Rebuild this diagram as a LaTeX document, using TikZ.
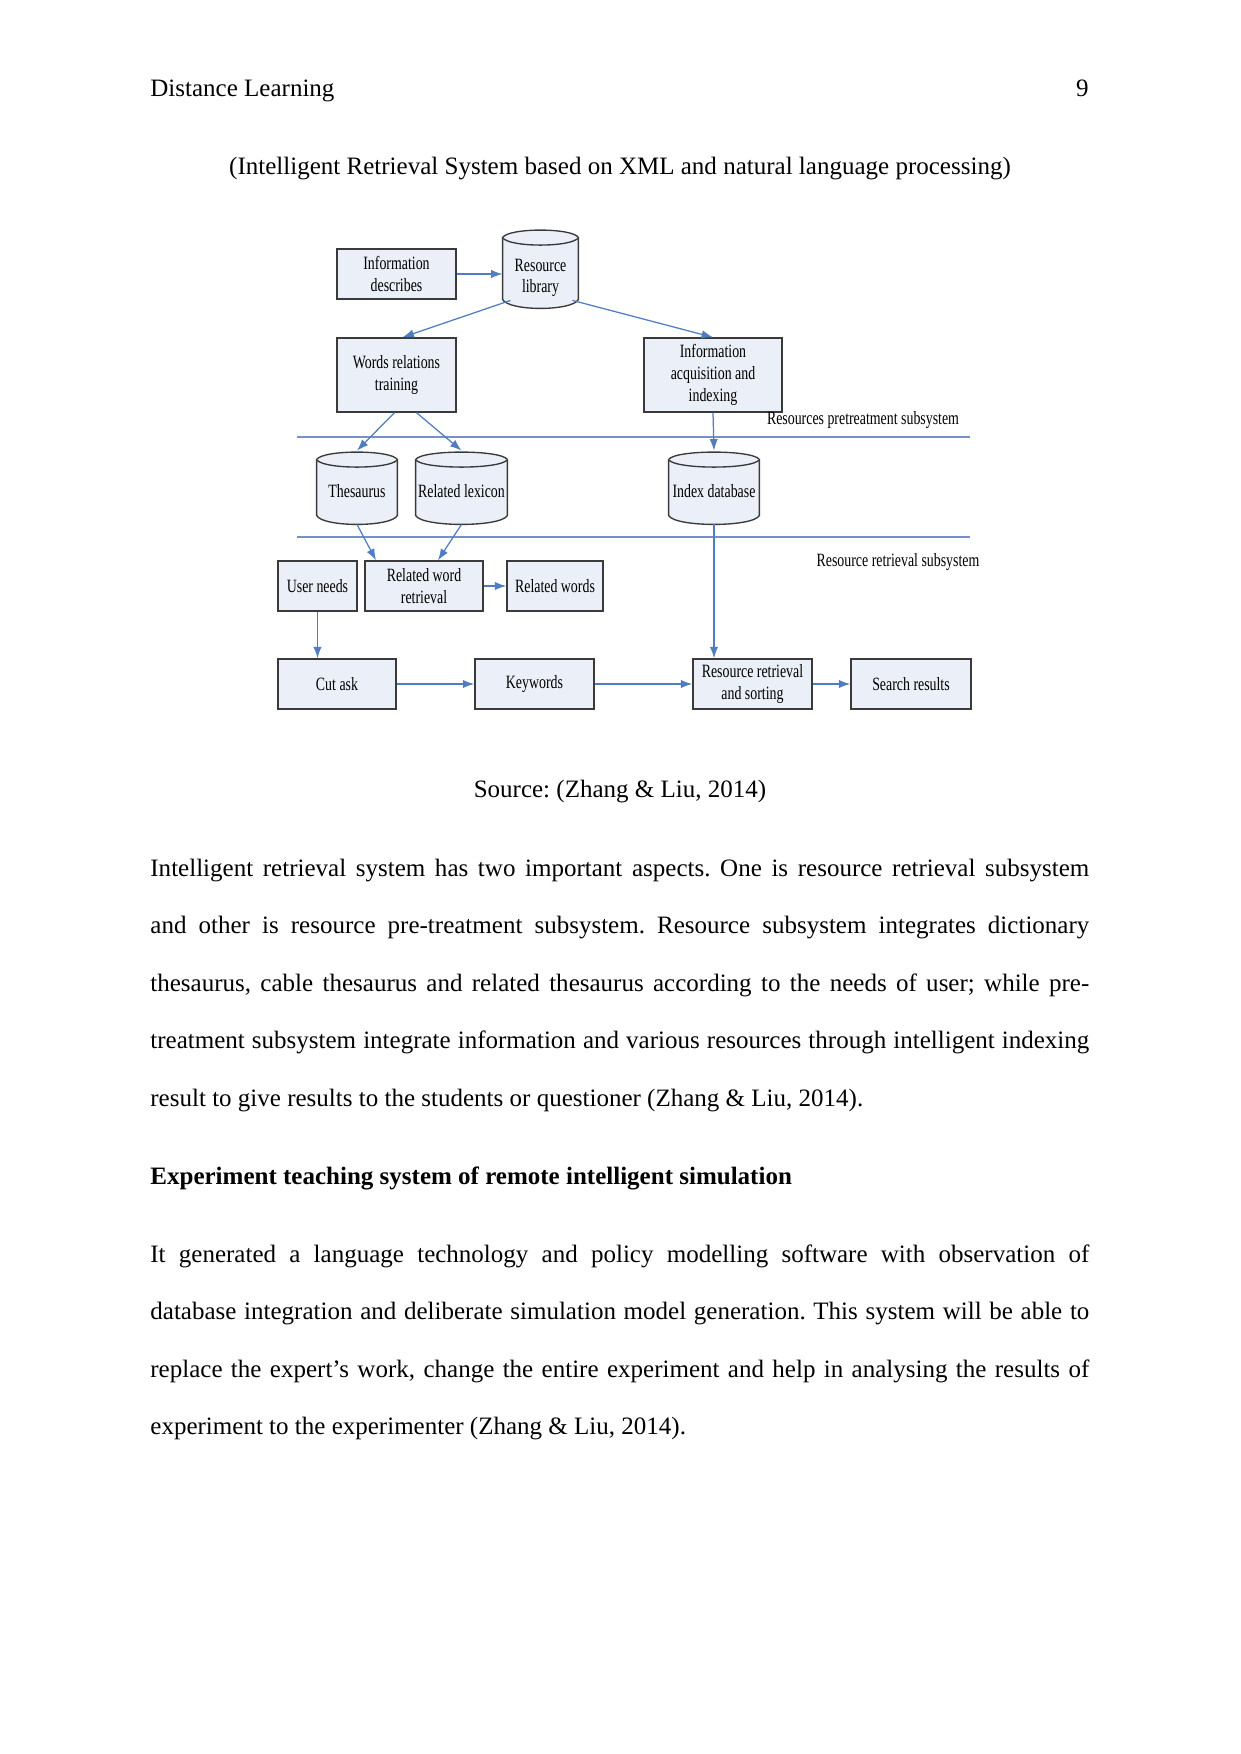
\documentclass[tikz,border=0pt]{standalone}
\usepackage{fontspec}
\setmainfont{Liberation Serif}
\newfontfamily\diagfont[FakeStretch=0.74]{Liberation Serif}
\usetikzlibrary{
    arrows.meta,
    backgrounds
}

% one pixel of the page
\newcommand\pu{0.4797pt}
\newcommand\dtext{\diagfont\fontsize{9pt}{10.4pt}\selectfont}
\newcommand\btext{\fontsize{12pt}{27.63pt}\selectfont\frenchspacing}

\definecolor{boxfill}{HTML}{EBEFF7}
\definecolor{boxline}{HTML}{3A3A3A}
\definecolor{arrowblue}{HTML}{4F7DC2}
\definecolor{sepblue}{HTML}{7592C8}

% database drum round a named node, lifted by #2 pixels
\newcommand\dbshape[2]{%
  \filldraw[dbline] ([shift={(0,8-#2)}]#1.north west)
      .. controls ([shift={(6,-2-#2)}]#1.north west) and ([shift={(-6,-2-#2)}]#1.north east) .. ([shift={(0,8-#2)}]#1.north east)
      -- ([shift={(0,-9-#2)}]#1.south east)
      .. controls ([shift={(-6,3-#2)}]#1.south east) and ([shift={(6,3-#2)}]#1.south west) .. ([shift={(0,-9-#2)}]#1.south west) -- cycle;
  \draw[dbline] ([shift={(0,8-#2)}]#1.north west)
      .. controls ([shift={(6,18-#2)}]#1.north west) and ([shift={(-6,18-#2)}]#1.north east) .. ([shift={(0,8-#2)}]#1.north east);
}

\begin{document}
\begin{tikzpicture}[x=\pu, y=-\pu,
    box/.style={draw=boxline, fill=boxfill, line width=0.65pt, minimum width=#1*\pu,
        minimum height=50*\pu, inner sep=1pt, align=center, font=\dtext},
    db/.style={minimum width=#1*\pu, minimum height=72*\pu, inner sep=0pt,
        align=center, font=\dtext},
    dbline/.style={draw=boxline, fill=boxfill, line width=0.65pt},
    arr/.style={draw=arrowblue, line width=0.6pt, -{Latex[length=5.5pt,width=4pt]}},
    sep/.style={draw=sepblue, line width=0.6pt},
    tag/.style={font=\dtext, inner sep=0pt},
    page/.style={font=\btext, inner sep=0pt}]
\useasboundingbox (0,0) rectangle (1241,1754);

% Page head
\node[page, anchor=base west] (runhead) at (150,97) {Distance Learning};
\node[page, anchor=base east] (pagenum) at (1089,97) {9};
\node[page, anchor=base] (title) at (620,174)
    {(Intelligent Retrieval System based on XML and natural language processing)};

% Pretreatment part
\node[box=119] (desc) at (396.5,274) {Information\\describes};
\node[db=75, minimum height=78*\pu] (lib) at (540.5,278) {Resource\\library};
\node[box=119, minimum height=74*\pu] (wrt) at (396.5,375) {Words relations\\training};
\node[box=138, minimum height=74*\pu] (iai) at (713,375) {Information\\acquisition and\\indexing};
\node[tag] (pretag) at (863,420) {Resources pretreatment subsystem};

% Stores
\node[db=80] (thes) at (357,491) {Thesaurus};
\node[db=91] (rlex) at (461.5,491) {Related lexicon};
\node[db=90] (idx) at (714,491) {Index database};

% Retrieval part
\node[tag] (rettag) at (898,562) {Resource retrieval subsystem};
\node[box=79] (user) at (317.5,586) {User needs};
\node[box=118] (rwr) at (424,586) {Related word\\retrieval};
\node[box=96] (rwords) at (555,586) {Related words};
\node[box=118] (cut) at (337,684) {Cut ask};
\node[box=119] (kw) at (534.5,684) {Keywords};
\node[box=119] (rrs) at (752.5,684) {Resource retrieval\\and sorting};
\node[box=120] (sr) at (911,684) {Search results};

\begin{scope}[on background layer]
\dbshape{lib}{9}
\dbshape{thes}{3}
\dbshape{rlex}{3}
\dbshape{idx}{3}
\end{scope}

% Subsystem borders
\draw[sep] (297,437) -- (970,437);
\draw[sep] (297,537) -- (970,537);

% Arrows
\draw[arr] (desc.east) -- (desc.east -| lib.west);
\draw[arr] ([shift={(-30,-17)}]lib.south) -- ([xshift=6*\pu]wrt.north);
\draw[arr] ([shift={(32,-17)}]lib.south) -- (iai.north);
\draw[arr] ([xshift=-2*\pu]wrt.south) -- ([yshift=4*\pu]thes.north);
\draw[arr] ([xshift=20*\pu]wrt.south) -- ([yshift=4*\pu]rlex.north);
\draw[arr] (iai.south) -- ([yshift=4*\pu]idx.north);
\draw[arr] ([yshift=3*\pu]thes.south) -- ([xshift=-48*\pu]rwr.north);
\draw[arr] ([yshift=3*\pu]rlex.south) -- ([xshift=14*\pu]rwr.north);
\draw[arr] (rwr) -- (rwords);
\draw[arr] (user.south) -- (user.south |- cut.north);
\draw[arr] ([yshift=3*\pu]idx.south) -- (rrs.north -| idx.south);
\draw[arr] (cut) -- (kw);
\draw[arr] (kw) -- (rrs);
\draw[arr] (rrs) -- (sr);

% Text below the figure
\node[page, anchor=base] (source) at (620,797) {Source: (Zhang \& Liu, 2014)};
\node[page, anchor=base west, text width=450.4pt, align=justify] (parone) at (150,876)
    {Intelligent retrieval system has two important aspects. One is resource retrieval subsystem\linebreak
     and other is resource pre-treatment subsystem. Resource subsystem integrates dictionary\linebreak
     thesaurus, cable thesaurus and related thesaurus according to the needs of user; while pre-\linebreak
     treatment subsystem integrate information and various resources through intelligent indexing\linebreak
     result to give results to the students or questioner (Zhang \& Liu, 2014).};
\node[page, anchor=base west, font=\btext\bfseries] (head) at (150,1184)
    {Experiment teaching system of remote intelligent simulation};
\node[page, anchor=base west, text width=450.4pt, align=justify] (partwo) at (150,1262)
    {It generated a language technology and policy modelling software with observation of\linebreak
     database integration and deliberate simulation model generation. This system will be able to\linebreak
     replace the expert’s work, change the entire experiment and help in analysing the results of\linebreak
     experiment to the experimenter (Zhang \& Liu, 2014).};
\end{tikzpicture}
\end{document}
